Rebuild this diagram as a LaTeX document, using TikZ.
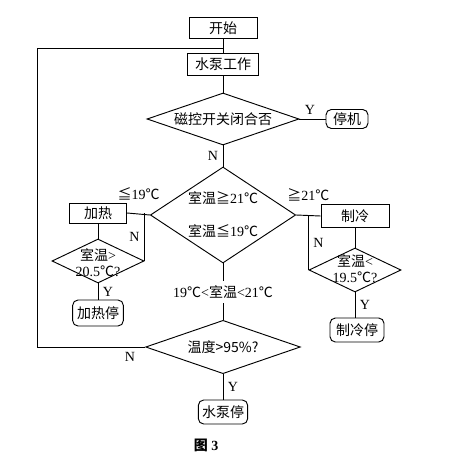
\documentclass[tikz,border=0pt]{standalone}
\usepackage{fontspec}
\setmainfont{Liberation Serif}
\newfontfamily\cjk{Noto Sans CJK SC}
\usetikzlibrary{shapes.geometric}
\newcommand{\cel}{{\cjk ℃}}

\begin{document}
\begin{tikzpicture}[x=0.75pt,y=0.75pt,line width=0.7pt,font=\fontsize{10.5}{11}\selectfont]
\useasboundingbox (0,0) rectangle (462,-466);

        \begin{scope}[every node/.style={rectangle,draw,inner sep=1pt,font=\cjk\fontsize{10.5}{12}\selectfont}]
          \node (start) [minimum width=51pt,minimum height=15.75pt] at (223,-28)  {开始};
          \node (pump)  [minimum width=53pt,minimum height=16.5pt]  at (223,-64)  {水泵工作};
          \node (heat)  [minimum width=43pt,minimum height=15pt]    at (98,-213)  {加热};
          \node (cool)  [minimum width=51pt,minimum height=17pt]    at (355,-216) {制冷};
        \end{scope}

        \begin{scope}[every node/.style={rectangle,rounded corners=4pt,draw,inner sep=1pt,font=\cjk\fontsize{10.5}{12}\selectfont}]
          \node (halt)    [minimum width=31.5pt,minimum height=14.25pt] at (347,-119) {停机};
          \node (heatoff) [minimum width=38pt,minimum height=19.5pt]    at (98,-313)  {加热停};
          \node (cooloff) [minimum width=40.5pt,minimum height=18pt]    at (357,-330) {制冷停};
          \node (pumpoff) [minimum width=37pt,minimum height=18pt]      at (223,-412) {水泵停};
        \end{scope}

        \begin{scope}[every node/.style={diamond,draw,inner sep=0pt}]
          \node (magnet)   [minimum width=114pt,minimum height=39pt] at (223,-119) {};
          \node (room)     [minimum width=109pt,minimum height=72pt] at (223,-215) {};
          \node (leftchk)  [minimum width=69pt,minimum height=33pt]  at (98,-261)  {};
          \node (rightchk) [minimum width=69pt,minimum height=33pt]  at (355,-270) {};
          \node (humid)    [minimum width=116pt,minimum height=40pt] at (223,-347) {};
        \end{scope}

        % texts inside the diamonds
        \node (magnettext) at (magnet)    {\cjk 磁控开关闭合否};
        \node (roomup)    at (223,-198) {{\cjk 室温≧}21\cel};
        \node (roomdown)  at (223,-231) {{\cjk 室温≦}19\cel};
        \node (leftup)    at (98,-255)  {{\cjk 室温}>};
        \node (leftdown)  at (98,-271)  {20.5\cel?};
        \node (rightup)   at (355,-261) {{\cjk 室温}<};
        \node (rightdown) at (355,-277) {19.5\cel?};
        \node (humidtext) at (humid)     {\cjk 温度>95\%?};

        \coordinate (loop) at (37,-48);

        \draw (start) -- (pump);
        \draw (pump) -- (magnet);
        \draw (magnet) -- node[above,pos=0.4] {Y} (halt);
        \draw (magnet) -- node[left] {N} (room);

        \draw (room.west) -- node[above=7pt] {{\cjk ≦}19\cel} (heat.east);
        \draw (leftchk.east) -- node[left] {N} (leftchk.east |- heat.east);
        \draw (heat) -- (leftchk);
        \draw (leftchk) -- node[right] {Y} (heatoff);

        \draw (room.east) -- node[above=7pt] {{\cjk ≧}21\cel} (cool.west);
        \draw (rightchk.west) -- node[right] {N} (rightchk.west |- cool.west);
        \draw (cool) -- (rightchk);
        \draw (rightchk) -- node[right] {Y} (rightchk.south |- cooloff.north);

        \draw (room) -- node[fill=white] {19\cel<{\cjk 室温}<21\cel} (humid);
        \draw (humid) -- node[right] {Y} (pumpoff);
        \draw (humid.west) -| node[below,pos=0.07] {N} (loop) -- (loop -| pump);

        \node (caption) at (206,-445) {\bfseries{\cjk 图} 3};

      \end{tikzpicture}
\end{document}
